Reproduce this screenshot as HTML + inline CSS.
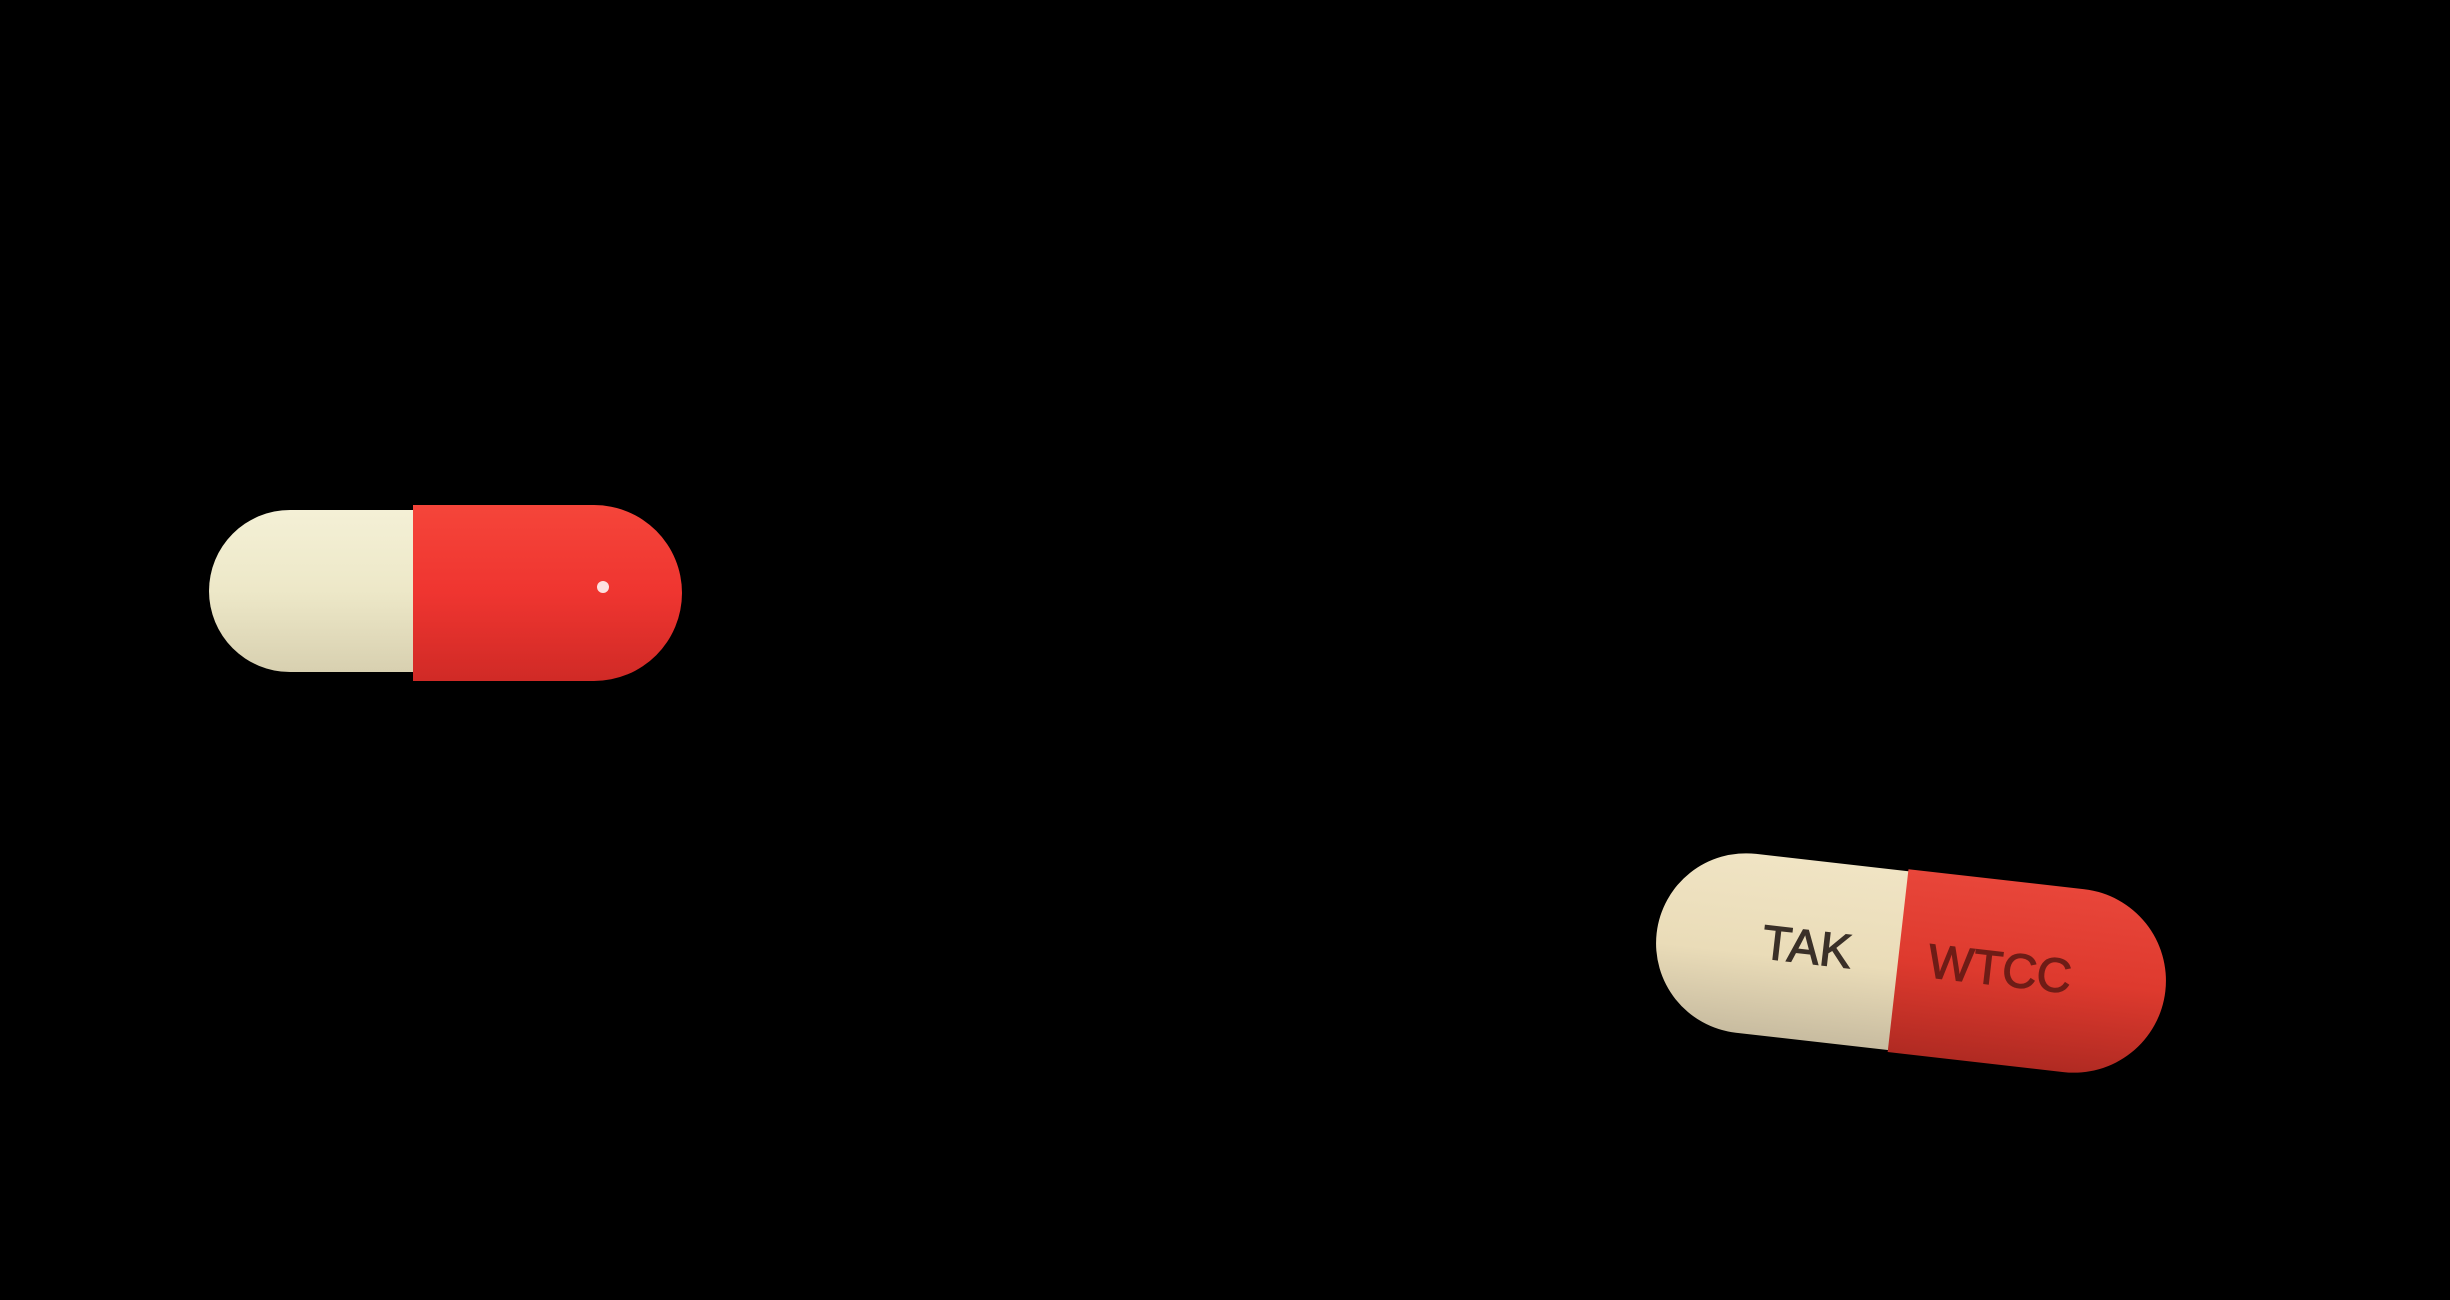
<!DOCTYPE html>
<html><head><meta charset="utf-8"><style>
html,body{margin:0;padding:0;background:#000;width:2450px;height:1300px;overflow:hidden}
svg{display:block}
</style></head><body>
<svg width="2450" height="1300" viewBox="0 0 2450 1300">
<defs>
<linearGradient id="cr" x1="0" y1="0" x2="0" y2="1">
<stop offset="0" stop-color="#f4f0d6"/><stop offset="0.5" stop-color="#ede8c8"/><stop offset="1" stop-color="#d8d0b0"/></linearGradient>
<linearGradient id="rd" x1="0" y1="0" x2="0" y2="1">
<stop offset="0" stop-color="#f5453a"/><stop offset="0.5" stop-color="#ef3530"/><stop offset="1" stop-color="#d02a26"/></linearGradient>
<linearGradient id="cr2" x1="0" y1="0" x2="0" y2="1">
<stop offset="0" stop-color="#f0e4c4"/><stop offset="0.55" stop-color="#eadcb8"/><stop offset="1" stop-color="#c8bca0"/></linearGradient>
<linearGradient id="rd2" x1="0" y1="0" x2="0" y2="1">
<stop offset="0" stop-color="#e8463a"/><stop offset="0.5" stop-color="#de3a2e"/><stop offset="1" stop-color="#b02a22"/></linearGradient>
</defs>
<g>
<path d="M420,510 L290,510 A81,81 0 0 0 290,672 L420,672 Z" fill="url(#cr)"/>
<path d="M413,505 L594,505 A88,88 0 0 1 594,681 L413,681 Z" fill="url(#rd)"/>
<circle cx="603" cy="587" r="6" fill="#fff" opacity="0.85"/>
</g>
<g transform="rotate(6.5 1910 962)">
<path d="M1910,872 L1745,872 A90,90 0 0 0 1745,1052 L1910,1052 Z" fill="url(#cr2)"/>
<path d="M1898,870 L2075,870 A92,92 0 0 1 2075,1054 L1898,1054 Z" fill="url(#rd2)"/>
<text x="1806" y="975" font-family="Liberation Sans, sans-serif" font-size="48" fill="#3a3028" stroke="#3a3028" stroke-width="1.2" text-anchor="middle">TAK</text>
<text x="2000" y="975" font-family="Liberation Sans, sans-serif" font-size="48" fill="#6e1c16" stroke="#6e1c16" stroke-width="1.2" text-anchor="middle">WTCC</text>
</g>
</svg>
</body></html>
